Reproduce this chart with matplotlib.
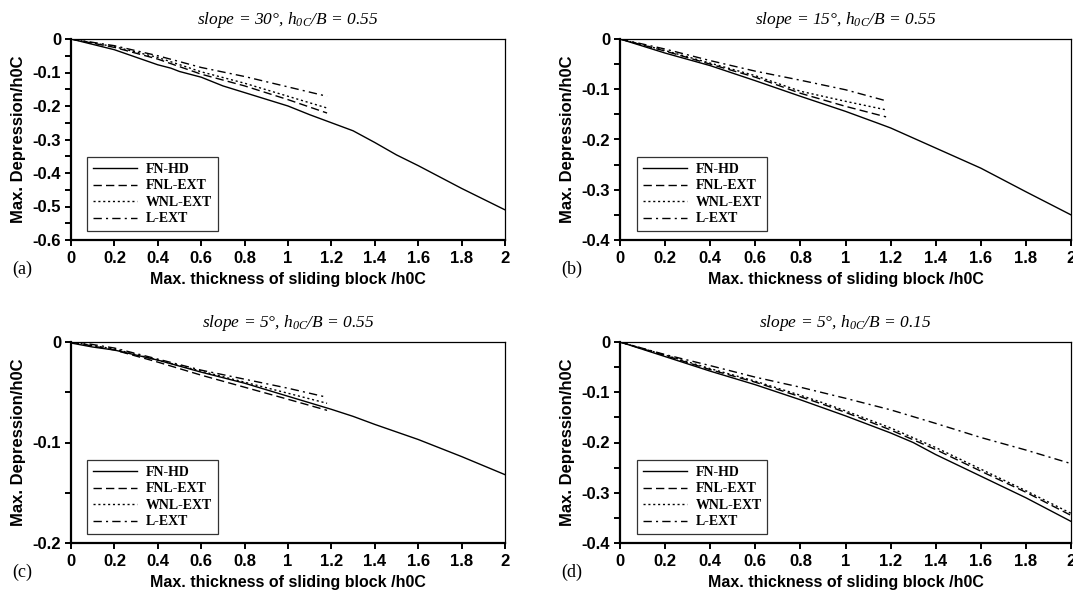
import matplotlib
matplotlib.use("Agg")
import matplotlib.pyplot as plt
from matplotlib.ticker import MultipleLocator

plt.rcParams["font.family"] = ["Liberation Sans", "DejaVu Sans"]
plt.rcParams["mathtext.fontset"] = "custom"
plt.rcParams["mathtext.rm"] = "Liberation Serif:italic"
plt.rcParams["mathtext.it"] = "Liberation Serif:italic"

# ---- data -------------------------------------------------------------
series_names = ["FN-HD", "FNL-EXT", "WNL-EXT", "L-EXT"]
panel_tags = ["(a)", "(b)", "(c)", "(d)"]
panel_titles = [
    "slope = 30°, h$_{0C}$/B = 0.55",
    "slope = 15°, h$_{0C}$/B = 0.55",
    "slope = 5°, h$_{0C}$/B = 0.55",
    "slope = 5°, h$_{0C}$/B = 0.15",
]

# (a) slope 30, h0C/B 0.55
a_hd_x = [0, 0.2, 0.4, 0.46, 0.5, 0.6, 0.7, 0.8, 0.9, 1.0, 1.1, 1.2, 1.3, 1.4, 1.5, 1.6, 1.8, 2.0]
a_hd_y = [0, -0.032, -0.077, -0.087, -0.097, -0.114, -0.14, -0.16, -0.18, -0.2, -0.226, -0.25,
          -0.274, -0.309, -0.346, -0.378, -0.446, -0.51]
a_ext_x = [0, 0.2, 0.4, 0.6, 0.8, 1.0, 1.18]
a_fnl_y = [0, -0.025, -0.06, -0.105, -0.14, -0.181, -0.221]
a_wnl_y = [0, -0.023, -0.055, -0.098, -0.132, -0.171, -0.206]
a_l_y = [0, -0.02, -0.05, -0.085, -0.112, -0.143, -0.171]

# (b) slope 15, h0C/B 0.55
b_hd_x = [0, 0.2, 0.4, 0.52, 0.6, 0.8, 1.0, 1.14, 1.2, 1.3, 1.36, 1.4, 1.6, 1.8, 2.0]
b_hd_y = [0, -0.028, -0.053, -0.071, -0.083, -0.114, -0.144, -0.167, -0.177, -0.197, -0.209,
          -0.217, -0.257, -0.304, -0.35]
b_ext_x = [0, 0.2, 0.4, 0.6, 0.8, 1.0, 1.18]
b_fnl_y = [0, -0.024, -0.05, -0.076, -0.108, -0.134, -0.155]
b_wnl_y = [0, -0.023, -0.048, -0.073, -0.104, -0.124, -0.141]
b_l_y = [0, -0.02, -0.043, -0.064, -0.082, -0.101, -0.123]

# (c) slope 5, h0C/B 0.55
c_hd_x = [0, 0.1, 0.2, 0.3, 0.4, 0.5, 0.6, 0.8, 1.0, 1.2, 1.3, 1.4, 1.6, 1.8, 2.0]
c_hd_y = [-0.001, -0.005, -0.008, -0.013, -0.018, -0.024, -0.03, -0.041, -0.054, -0.067,
          -0.074, -0.082, -0.097, -0.114, -0.132]
c_ext_x = [0, 0.2, 0.4, 0.6, 0.8, 1.0, 1.18]
c_fnl_y = [0, -0.008, -0.02, -0.033, -0.045, -0.057, -0.068]
c_wnl_y = [0, -0.007, -0.018, -0.029, -0.04, -0.051, -0.061]
c_l_y = [0.001, -0.006, -0.017, -0.028, -0.037, -0.046, -0.055]

# (d) slope 5, h0C/B 0.15
d_hd_x = [0, 0.2, 0.4, 0.6, 0.8, 1.0, 1.2, 1.3, 1.4, 1.6, 1.8, 2.0]
d_hd_y = [0, -0.029, -0.058, -0.085, -0.115, -0.147, -0.181, -0.2, -0.224, -0.267, -0.31, -0.357]
d_ext_x = [0, 0.2, 0.4, 0.6, 0.8, 0.9, 1.0, 1.2, 1.4, 1.6, 1.8, 2.0]
d_fnl_y = [0, -0.027, -0.055, -0.08, -0.109, -0.124, -0.14, -0.175, -0.214, -0.257, -0.299, -0.345]
d_wnl_y = [0, -0.026, -0.053, -0.078, -0.106, -0.121, -0.137, -0.171, -0.21, -0.253, -0.296, -0.341]
d_l_y = [0, -0.025, -0.047, -0.07, -0.09, -0.101, -0.112, -0.135, -0.162, -0.19, -0.215, -0.242]

y_ranges = [(-0.6, 0.1, 0.05), (-0.4, 0.1, 0.05), (-0.2, 0.1, 0.05), (-0.4, 0.1, 0.05)]

panels = [
    (a_hd_x, a_hd_y, a_ext_x, a_fnl_y, a_wnl_y, a_l_y),
    (b_hd_x, b_hd_y, b_ext_x, b_fnl_y, b_wnl_y, b_l_y),
    (c_hd_x, c_hd_y, c_ext_x, c_fnl_y, c_wnl_y, c_l_y),
    (d_hd_x, d_hd_y, d_ext_x, d_fnl_y, d_wnl_y, d_l_y),
]

# ---- styling ------------------------------------------------------------
line_styles = [
    dict(linestyle="-"),
    dict(linestyle=(0, (6, 3))),
    dict(linestyle=(0, (1.5, 2))),
    dict(linestyle=(0, (6, 3, 1.5, 3))),
]

fig = plt.figure(figsize=(10.73, 6.01), dpi=100)
W, H = 1073, 601
boxes = [
    (71, 505, 39, 240),
    (620, 1071, 39, 240),
    (71, 505, 342, 543),
    (620, 1071, 342, 543),
]

for i, (box, data) in enumerate(zip(boxes, panels)):
    l, r, t, b = box
    ax = fig.add_axes([l / W, 1 - b / H, (r - l) / W, (b - t) / H])
    hd_x, hd_y, ext_x, fnl_y, wnl_y, l_y = data
    ys = [hd_y, fnl_y, wnl_y, l_y]
    xs = [hd_x, ext_x, ext_x, ext_x]
    for name, x, y, st in zip(series_names, xs, ys, line_styles):
        ax.plot(x, y, color="black", linewidth=1.0, label=name, **st)

    ymin, ymaj, ymin_step = y_ranges[i]
    ax.set_xlim(0, 2)
    ax.set_ylim(ymin, 0)
    ax.xaxis.set_major_locator(MultipleLocator(0.2))
    ax.yaxis.set_major_locator(MultipleLocator(ymaj))
    ax.yaxis.set_minor_locator(MultipleLocator(ymin_step))
    ax.xaxis.set_major_formatter(plt.FuncFormatter(lambda v, p: f"{v:g}"))
    ax.yaxis.set_major_formatter(plt.FuncFormatter(lambda v, p: f"{v:g}" if abs(v) > 1e-9 else "0"))

    for side in ("left", "bottom"):
        ax.spines[side].set_linewidth(1.6)
    for side in ("top", "right"):
        ax.spines[side].set_linewidth(0.9)
    ax.tick_params(axis="both", which="both", direction="out", width=1.4, length=4,
                   labelsize=12, pad=3)
    ax.tick_params(axis="x", which="major", pad=4)
    for lab in ax.get_xticklabels() + ax.get_yticklabels():
        lab.set_fontweight("bold")

    ax.set_xlabel("Max. thickness of sliding block /h0C", fontsize=11.5, fontweight="bold",
                  labelpad=4)
    ax.set_ylabel("Max. Depression/h0C", fontsize=12, fontweight="bold", labelpad=5)
    ax.set_title(panel_titles[i], fontsize=12.5, pad=11, family="Liberation Serif",
                 style="italic")

    leg = ax.legend(loc="lower left", bbox_to_anchor=(0.038, 0.045), frameon=True,
                    fancybox=False, edgecolor="black", handlelength=3.2,
                    prop={"family": "Liberation Serif", "weight": "bold", "size": 10},
                    borderpad=0.4, labelspacing=0.25, handletextpad=0.6,
                    borderaxespad=0)
    leg.get_frame().set_linewidth(0.9)

    fig.text((l - 59) / W, 1 - (b + 29) / H, panel_tags[i], fontsize=13,
             family="Liberation Serif", ha="left", va="center")

fig.savefig("out.png", dpi=100)
